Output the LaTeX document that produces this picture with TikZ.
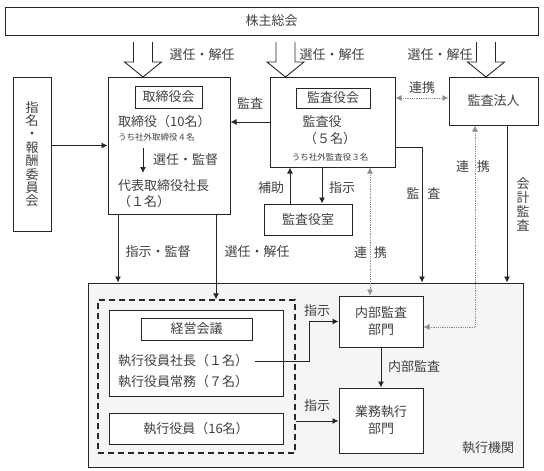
\documentclass[tikz,border=0pt]{standalone}
\usepackage{fontspec}
\setmainfont{Noto Sans CJK JP}
\usetikzlibrary{arrows.meta,calc}
\tikzset{
  box/.style={draw=black!85, line width=1pt, inner sep=0pt},
  lbl/.style={font=\fontsize{13}{14}\selectfont, text=black!75, inner sep=0pt},
  small/.style={font=\fontsize{8.5}{10}\selectfont, text=black!75, inner sep=0pt},
  arr/.style={draw=black!85, line width=0.9pt, -{Latex[length=6pt,width=6pt]}},
  darr/.style={draw=black!45, line width=0.8pt, densely dotted, {Latex[length=6pt,width=6pt]}-{Latex[length=6pt,width=6pt]}},
  hollow/.style={draw=black!85, line width=0.9pt, fill=white},
}
\begin{document}
\begin{tikzpicture}[x=1pt,y=-1pt]
\useasboundingbox (0,0) rectangle (544,471);
% boxes
\node[box, minimum width=533, minimum height=28] (sh) at (271.5,21) {};
\node[lbl] at (sh) {株主総会};
\node[box, minimum width=38, minimum height=154] (nom) at (32,154) {};
\node[lbl, align=center, font=\fontsize{13}{13.4}\selectfont] at (32,154) {指\\名\\・\\報\\酬\\委\\員\\会};
\node[box, minimum width=122, minimum height=137] (brd) at (169,145.5) {};
\node[box, minimum width=67, minimum height=22] (brdl) at (168.5,97) {};
\node[lbl] at (brdl) {取締役会};
\node[box, minimum width=125, minimum height=90] (aud) at (332.5,122) {};
\node[box, minimum width=74, minimum height=20] (audl) at (333,98) {};
\node[lbl] at (audl) {監査役会};
\node[box, minimum width=89, minimum height=48] (firm) at (493.5,101) {};
\node[lbl] at (firm) {監査法人};
\node[box, minimum width=88, minimum height=31] (office) at (308,219.5) {};
\node[lbl] at (office) {監査役室};
\node[box, fill=black!4, minimum width=435, minimum height=184] (exec) at (305.5,375) {};
\node[draw=black!85, line width=1.3pt, dash pattern=on 6pt off 4pt, minimum width=197, minimum height=153, inner sep=0pt] (dash) at (196.5,376.5) {};
\node[box, fill=white, minimum width=174, minimum height=86] (mgmt) at (196,353) {};
\node[box, minimum width=111, minimum height=22] (mgmtl) at (196.5,329) {};
\node[lbl] at (mgmtl) {経営会議};
\node[box, fill=white, minimum width=174, minimum height=31] (eo) at (196,428.5) {};
\node[lbl] at (eo) {執行役員（16名）};
\node[box, fill=white, minimum width=84, minimum height=51] (ia) at (381,321.5) {};
\node[lbl, align=center, font=\fontsize{13}{17}\selectfont] at (ia) {内部監査\\部門};
\node[box, fill=white, minimum width=84, minimum height=65] (biz) at (381,420.5) {};
\node[lbl, align=center, font=\fontsize{13}{17}\selectfont] at (biz) {業務執行\\部門};
% board texts
\node[lbl, anchor=west] (t1) at (118,122) {取締役（10名）};
\node[small, anchor=west] (t2) at (118,137) {うち社外取締役４名};
\node[lbl, anchor=west] (t3) at (118,186) {代表取締役社長};
\node[lbl, anchor=west] (t4) at (118,202) {（１名）};
\coordinate (s1) at (143,148);
\coordinate (s2) at (143,173);
\draw[arr] (s1) -- (s2);
\node[lbl, anchor=west] at (153,160) {選任・監督};
% auditor texts
\node[lbl] at (322,122) {監査役};
\node[lbl] at (330,139) {（５名）};
\node[small] at (330,157) {うち社外監査役３名};
% management texts
\node[lbl, anchor=west] (p1) at (118,361) {執行役員社長（１名）};
\node[lbl, anchor=west] (p2) at (118,382) {執行役員常務（７名）};
% hollow arrows
\foreach \cx in {143,285.5,486}{
  \draw[hollow] (\cx-9.5,42) -- (\cx-9.5,62) -- (\cx-18.5,62) -- (\cx,77) -- (\cx+18.5,62) -- (\cx+9.5,62) -- (\cx+9.5,42);
}
\node[lbl] at (202,55) {選任・解任};
\node[lbl] at (332,55) {選任・解任};
\node[lbl] at (440,55) {選任・解任};
% connectors
\draw[arr] (nom.east |- brd.west) -- (brd.west);
\draw[arr] (aud.west) -- (aud.west -| brd.east);
\node[lbl] at (250,103) {監査};
\draw[darr] (aud.east |- 0,98) -- (firm.west |- 0,98);
\node[lbl] at (422,88) {連携};
\draw[arr] ($(office.north)+(-18,0)$) -- ($(office.north |- aud.south)+(-18,0)$);
\node[lbl] at (271,188) {補助};
\draw[arr] ($(aud.south)+(-10.5,0)$) -- ($(aud.south |- office.north)+(-10.5,0)$);
\node[lbl] at (342,188) {指示};
\draw[darr] ($(aud.south)+(37.5,0)$) -- ($(aud.south |- ia.north)+(37.5,0)$);
\node[lbl] at (370.5,253) {連\hspace{7pt}携};
\draw[arr] (aud.east |- 0,147) -- (422,147) -- (422,0 |- exec.north);
\node[lbl] at (423.5,193) {監\hspace{8pt}査};
\coordinate (fa) at ($(firm.south)+(-18.5,0)$);
\draw[darr] (fa) -- (fa |- 0,327) -- (ia.east |- 0,327);
\node[lbl] at (473,167) {連\hspace{8pt}携};
\draw[arr] ($(firm.south)+(13.5,0)$) -- ($(firm.south |- exec.north)+(13.5,0)$);
\node[lbl, align=center, font=\fontsize{13}{14}\selectfont] at (523,204) {会\\計\\監\\査};
\draw[arr] ($(brd.south)+(-51,0)$) -- ($(brd.south |- exec.north)+(-51,0)$);
\node[lbl] at (158,252) {指示・監督};
\draw[arr] ($(brd.south)+(47,0)$) -- ($(brd.south |- dash.north)+(47,0)$);
\node[lbl] at (257,252) {選任・解任};
\coordinate (bend) at (309,361);
\draw[arr] ([xshift=7pt]p1.east) -- (bend) |- (ia.west);
\node[lbl] at (317,311) {指示};
\draw[arr] (dash.east |- 0,421) -- (biz.west |- 0,421);
\node[lbl] at (317,406) {指示};
\draw[arr] (ia.south) -- (biz.north);
\node[lbl] at (414,367) {内部監査};
\node[lbl] at (488,448) {執行機関};
\end{tikzpicture}
\end{document}
